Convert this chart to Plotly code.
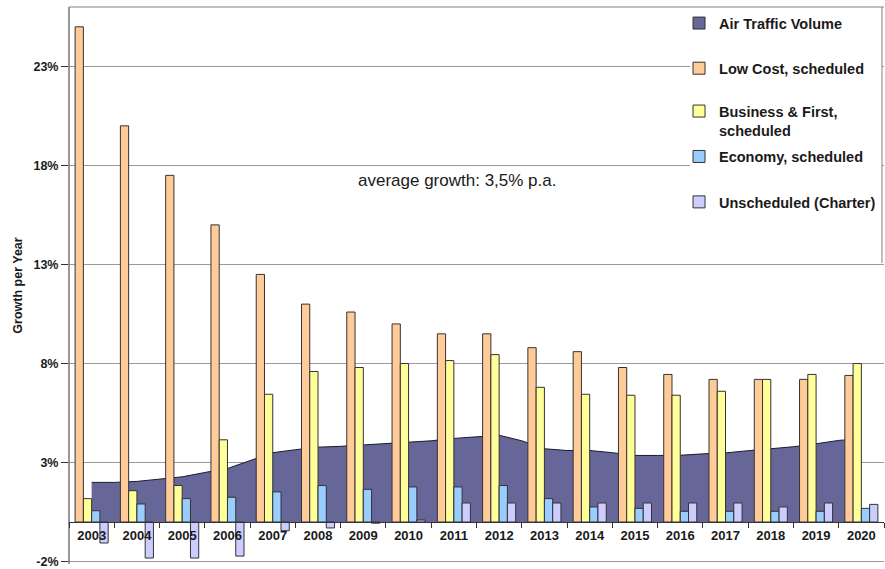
import plotly.graph_objects as go

# Yearly growth rates per segment (% per year)
years = list(range(2003, 2021))
low_cost = [25.0, 20.0, 17.5, 15.0, 12.5, 11.0, 10.6, 10.0, 9.5, 9.5,
            8.8, 8.6, 7.8, 7.45, 7.2, 7.2, 7.2, 7.4]
business_first = [1.18, 1.58, 1.84, 4.15, 6.45, 7.6, 7.8, 8.0, 8.15, 8.45,
                  6.8, 6.45, 6.4, 6.4, 6.6, 7.2, 7.45, 8.0]
economy = [0.57, 0.91, 1.18, 1.25, 1.52, 1.84, 1.65, 1.77, 1.77, 1.84,
           1.18, 0.76, 0.69, 0.54, 0.54, 0.54, 0.54, 0.69]
charter = [-1.06, -1.82, -1.82, -1.72, -0.44, -0.30, -0.06, 0.10, 0.96, 0.96,
           0.96, 0.96, 0.96, 0.96, 0.96, 0.76, 0.96, 0.89]

# Overall air traffic volume growth, half-yearly readings 2003.0 ... 2020.0
traffic_t = [y + h for y in years[:-1] for h in (0.0, 0.5)] + [years[-1]]
traffic = [2.00, 2.00, 2.05, 2.15, 2.28, 2.50, 2.70, 3.10, 3.50, 3.65,
           3.78, 3.82, 3.88, 3.96, 4.03, 4.10, 4.22, 4.30, 4.38, 4.10,
           3.70, 3.61, 3.61, 3.50, 3.36, 3.36, 3.37, 3.44, 3.49, 3.60,
           3.69, 3.80, 3.95, 4.12, 4.20]

y_ticks = [-2, 3, 8, 13, 18, 23]
y_min, y_max = -2.12, 26

FONT = "Liberation Sans"
INK = "#1a1a1a"
EDGE = "#333333"

fig = go.Figure()

# Area of total traffic growth, on the lower subplot so the bars sit on top
fig.add_trace(go.Scatter(
    x=traffic_t, y=traffic, mode="lines", fill="tozeroy",
    fillcolor="#666699", line=dict(color="#1a1a2e", width=1),
    name="Air Traffic Volume", showlegend=False, legendgroup="traffic",
    hoverinfo="x+y", xaxis="x", yaxis="y",
))
# legend entry for the area series (square swatch)
fig.add_trace(go.Bar(
    x=[None], y=[None], name="Air Traffic Volume", legendgroup="traffic",
    marker=dict(color="#666699", line=dict(color=EDGE, width=1)),
    xaxis="x", yaxis="y", legend="legend",
))

series = [
    ("Low Cost, scheduled", low_cost, "#FFCC99", "legend2"),
    ("Business & First,<br>scheduled", business_first, "#FFFF99", "legend3"),
    ("Economy, scheduled", economy, "#99CCFF", "legend4"),
    ("Unscheduled (Charter)", charter, "#CCCCFF", "legend5"),
]
for name, vals, color, leg in series:
    fig.add_trace(go.Bar(
        x=years, y=vals, name=name,
        marker=dict(color=color, line=dict(color=EDGE, width=1)),
        xaxis="x2", yaxis="y2", legend=leg,
    ))

x_range = [years[0] - 0.5, years[-1] + 0.5]
zero_pos = (0 - y_min) / (y_max - y_min)

legend_font = dict(family=FONT, size=14.5, color=INK, weight="bold")
legend_x = 0.7485
legend_rows = {"legend": 0.971, "legend2": 0.890, "legend3": 0.796,
               "legend4": 0.7315, "legend5": 0.650}
legends = {}
for key, ypos in legend_rows.items():
    legends[key] = dict(
        x=legend_x, y=ypos, xanchor="left", yanchor="middle",
        bgcolor="rgba(0,0,0,0)", borderwidth=0, font=legend_font,
        valign="top", itemclick=False, itemdoubleclick=False,
    )

fig.update_layout(
    width=885, height=569,
    margin=dict(l=69, r=1, t=7, b=5),
    paper_bgcolor="white", plot_bgcolor="white",
    barmode="group", bargap=0.27, bargroupgap=0.0,
    font=dict(family=FONT, color=INK),
    # category axis line sits at 0 %, with ticks between the years
    xaxis=dict(
        range=x_range, anchor="free", position=zero_pos,
        showline=True, linecolor=EDGE, linewidth=1,
        ticks="outside", ticklen=5, tickcolor=EDGE,
        tickvals=[y - 0.5 for y in years] + [years[-1] + 0.5],
        showticklabels=False, showgrid=False, zeroline=False,
    ),
    xaxis2=dict(
        range=x_range, overlaying="x", anchor="free", position=zero_pos,
        tickvals=years, ticktext=[str(y) for y in years], ticks="",
        showline=False, showgrid=False, zeroline=False,
        tickfont=dict(family=FONT, size=13, color=INK, weight="bold"),
        layer="above traces", ticklabelstandoff=4,
    ),
    yaxis=dict(
        range=[y_min, y_max], tickvals=y_ticks,
        ticktext=[f"{v}%" for v in y_ticks],
        showline=False,
        ticks="outside", ticklen=7, tickcolor=EDGE,
        showgrid=True, gridcolor="#9a9a9a", gridwidth=1, zeroline=False,
        tickfont=dict(family=FONT, size=12.5, color=INK, weight="bold"),
        title=dict(text="Growth per Year", standoff=8,
                   font=dict(family=FONT, size=12.5, color=INK, weight="bold")),
    ),
    yaxis2=dict(range=[y_min, y_max], overlaying="y", visible=False),
    showlegend=True,
    **legends,
    shapes=[
        # plot frame: value axis line on the left, top edge
        dict(type="line", xref="paper", yref="paper", x0=0, x1=0, y0=0, y1=1,
             line=dict(color=EDGE, width=1), layer="above"),
        dict(type="line", xref="paper", yref="paper", x0=0, x1=1, y0=1, y1=1,
             line=dict(color="#808080", width=1)),
        # legend panel
        dict(type="rect", xref="paper", yref="paper",
             x0=0.762, x1=0.9975, y0=0.5405, y1=0.998,
             fillcolor="white", line=dict(width=0), layer="above"),
        dict(type="line", xref="paper", yref="paper",
             x0=0.9975, x1=0.9975, y0=0.5405, y1=1,
             line=dict(color="#808080", width=1), layer="above"),
    ],
    annotations=[
        dict(text="average growth: 3,5% p.a.", xref="paper", yref="paper",
             x=0.4755, y=0.688, xanchor="center", yanchor="middle",
             showarrow=False, font=dict(family=FONT, size=17, color=INK)),
    ],
)

fig.write_html("out.html")
